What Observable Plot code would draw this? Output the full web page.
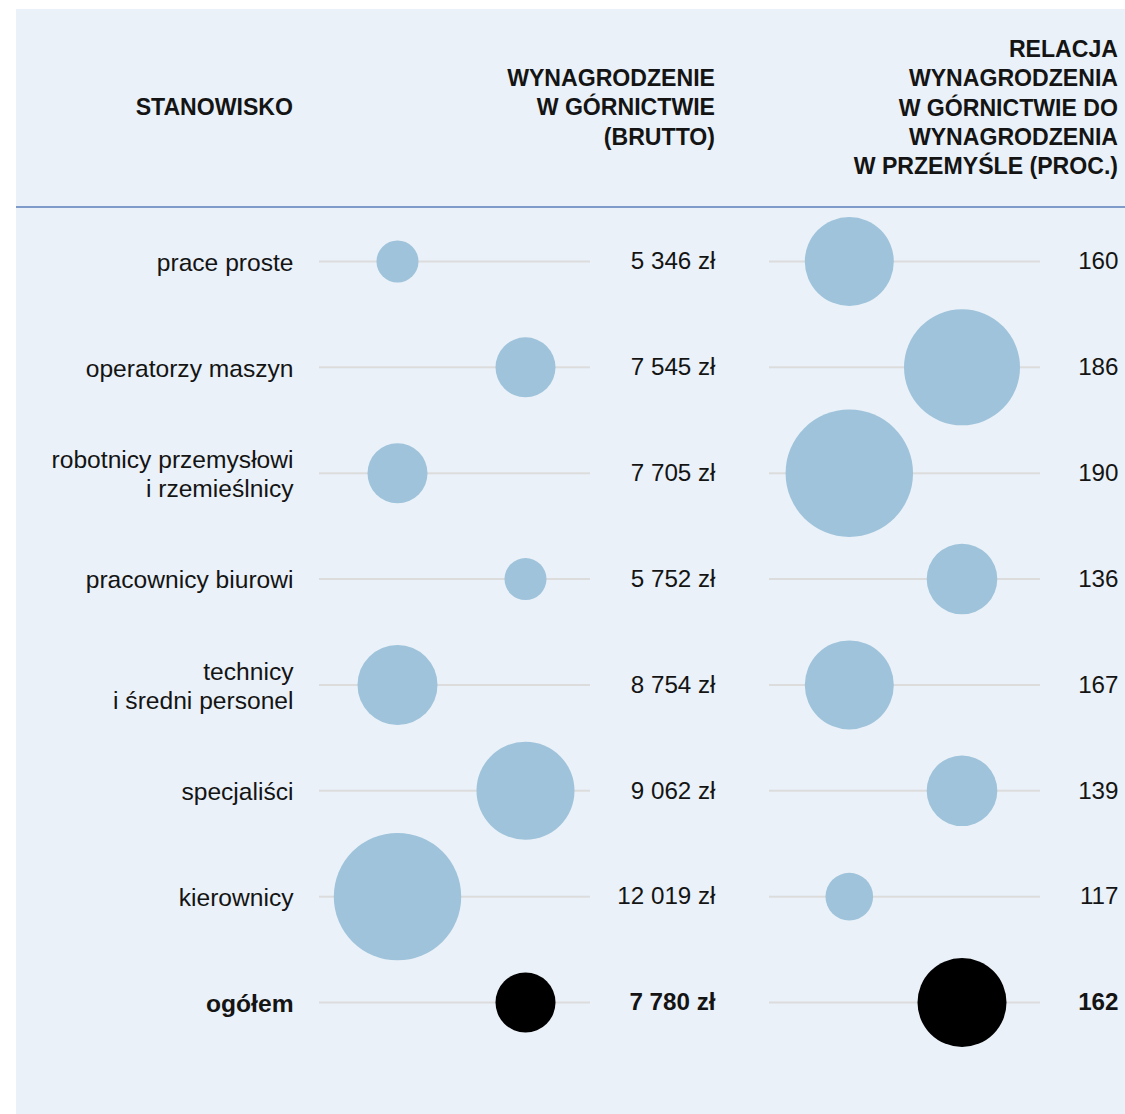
<!DOCTYPE html>
<html lang="pl">
<head>
<meta charset="utf-8">
<script src="https://cdn.jsdelivr.net/npm/d3@7"></script>
<script src="https://cdn.jsdelivr.net/npm/@observablehq/plot@0.6"></script>
<style>
  html, body { margin: 0; padding: 0; background: #ffffff; }
  body { width: 1125px; height: 1114px; position: relative; overflow: hidden;
         font-family: "Liberation Sans", Arial, sans-serif; color: #141414; }
  #panel { position: absolute; left: 16px; top: 9px; width: 1109px; height: 1105px; background: #eaf1f8; }
  #head { position: relative; height: 197px; border-bottom: 2px solid #7f9bc9; }
  #head div { position: absolute; top: 99px; transform: translateY(-50%); text-align: right;
              white-space: pre; font-weight: 700; font-size: 23.1px; line-height: 29.3px; }
  #charts { display: flex; }
  #charts svg { display: block; flex: none; }
</style>
</head>
<body>
<div id="panel">
  <div id="head"></div>
  <div id="charts"></div>
</div>
<script>
// Occupations (row labels), gross wage in mining (PLN) and mining-to-industry wage ratio (%)
const stanowiska = [
  "prace proste",
  "operatorzy maszyn",
  "robotnicy przemysłowi\ni rzemieślnicy",
  "pracownicy biurowi",
  "technicy\ni średni personel",
  "specjaliści",
  "kierownicy",
  "ogółem"
];
const wynagrodzenie = [5346, 7545, 7705, 5752, 8754, 9062, 12019, 7780];
const relacja = [160, 186, 190, 136, 167, 139, 117, 162];
const naglowki = [
  "STANOWISKO",
  "WYNAGRODZENIE\nW GÓRNICTWIE\n(BRUTTO)",
  "RELACJA\nWYNAGRODZENIA\nW GÓRNICTWIE DO\nWYNAGRODZENIA\nW PRZEMYŚLE (PROC.)"
];
const OGOLEM = "ogółem";

// Table layout (panel pixels)
const PANEL_W = 1109;
const LEFT_W = 730, RIGHT_W = PANEL_W - LEFT_W;
const headRight = [277, 699, 1102];
const leftCols = {label: 277, line: [303, 574], bubble: [381, 509], value: 699};
const rightCols = {line: [23, 294], bubble: [102.8, 215.5], value: 372};

const BUBBLE = "#9ec3db", TOTAL = "#000000", GRID = "#dcdcdc", INK = "#141414";
const FONT = "'Liberation Sans', Arial, sans-serif";

// Column headers
const head = document.getElementById("head");
naglowki.forEach((t, i) => {
  const el = document.createElement("div");
  el.textContent = t;
  el.style.right = (PANEL_W - headRight[i]) + "px";
  head.appendChild(el);
});

const rows = stanowiska.map((s, i) => ({
  stanowisko: s,
  wynagrodzenie: wynagrodzenie[i],
  relacja: relacja[i],
  kol: i % 2
}));
const zwykle = rows.filter(d => d.stanowisko !== OGOLEM);
const ogolem = rows.filter(d => d.stanowisko === OGOLEM);

const pl = d3.formatLocale({decimal: ",", thousands: " ", grouping: [3], currency: ["", " zł"]});
const zl = v => pl.format(",d")(v) + " zł";

const frame = {
  height: 906,
  marginTop: 53,
  marginBottom: 112,
  marginLeft: 0,
  marginRight: 0,
  x: {type: "identity", axis: null},
  y: {type: "point", domain: stanowiska, padding: 0, round: false, axis: null},
  style: {background: "none", overflow: "visible", fontFamily: FONT, fontSize: "24px", color: INK}
};

const labelOpts = {y: "stanowisko", textAnchor: "end", fontSize: 24.6, lineHeight: 1.19, fill: INK};
const valueOpts = {y: "stanowisko", textAnchor: "end", fontSize: 24.2, fill: INK};

// Left: occupation names and gross wages
const left = Plot.plot({
  ...frame,
  width: LEFT_W,
  r: {type: "threshold", domain: [6000, 8000, 9000, 10000], range: [21, 30, 40, 49, 63.7]},
  marks: [
    Plot.ruleY(rows, {y: "stanowisko", x1: leftCols.line[0], x2: leftCols.line[1], stroke: GRID, strokeWidth: 2}),
    Plot.dot(zwykle, {x: d => leftCols.bubble[d.kol], y: "stanowisko", r: "wynagrodzenie", fill: BUBBLE}),
    Plot.dot(ogolem, {x: d => leftCols.bubble[d.kol], y: "stanowisko", r: "wynagrodzenie", fill: TOTAL}),
    Plot.text(zwykle, {...labelOpts, x: leftCols.label, text: "stanowisko"}),
    Plot.text(ogolem, {...labelOpts, x: leftCols.label, text: "stanowisko", fontWeight: "bold"}),
    Plot.text(zwykle, {...valueOpts, x: leftCols.value, text: d => zl(d.wynagrodzenie)}),
    Plot.text(ogolem, {...valueOpts, x: leftCols.value, text: d => zl(d.wynagrodzenie), fontWeight: "bold"})
  ]
});

// Right: mining wage relative to industry wage
const right = Plot.plot({
  ...frame,
  width: RIGHT_W,
  r: {type: "threshold", domain: [120, 140, 180, 188], range: [23.8, 35.3, 44.5, 58, 63.7]},
  marks: [
    Plot.ruleY(rows, {y: "stanowisko", x1: rightCols.line[0], x2: rightCols.line[1], stroke: GRID, strokeWidth: 2}),
    Plot.dot(zwykle, {x: d => rightCols.bubble[d.kol], y: "stanowisko", r: "relacja", fill: BUBBLE}),
    Plot.dot(ogolem, {x: d => rightCols.bubble[d.kol], y: "stanowisko", r: "relacja", fill: TOTAL}),
    Plot.text(zwykle, {...valueOpts, x: rightCols.value, text: d => String(d.relacja)}),
    Plot.text(ogolem, {...valueOpts, x: rightCols.value, text: d => String(d.relacja), fontWeight: "bold"})
  ]
});

const charts = document.getElementById("charts");
charts.appendChild(left);
charts.appendChild(right);
</script>
</body>
</html>
